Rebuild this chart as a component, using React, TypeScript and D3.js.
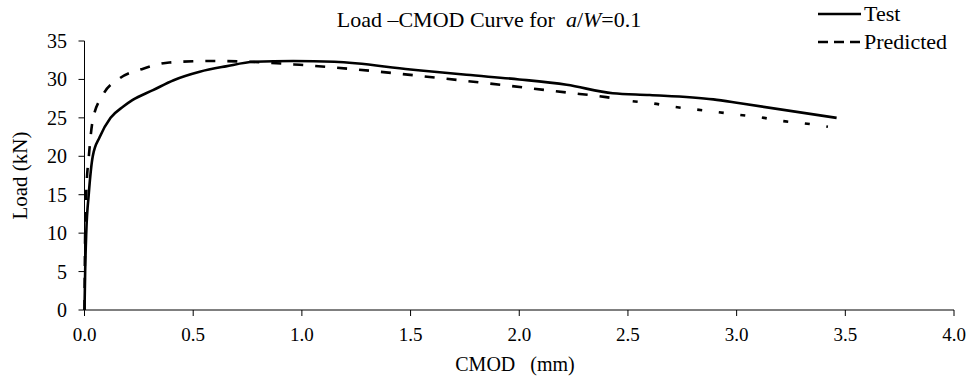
import React from "react";
import * as d3 from "d3";

const xTicks = [0, 0.5, 1.0, 1.5, 2.0, 2.5, 3.0, 3.5, 4.0];
const yTicks = [0, 5, 10, 15, 20, 25, 30, 35];

const testX = [0, 0.003, 0.008, 0.02, 0.038, 0.07, 0.12, 0.18, 0.22, 0.315, 0.41, 0.53, 0.65, 0.78, 0.96, 1.15, 1.5, 1.757, 2.0, 2.218, 2.43, 2.6, 2.893, 3.016, 3.46];
const testY = [0, 5, 10, 15.2, 20, 22.5, 25, 26.5, 27.3, 28.6, 29.9, 31, 31.7, 32.3, 32.4, 32.3, 31.3, 30.6, 30.0, 29.3, 28.2, 27.97, 27.4, 26.9, 25.0];

const predX = [0, 0.003, 0.008, 0.02, 0.038, 0.085, 0.16, 0.27, 0.39, 0.58, 0.75, 0.99, 1.757, 2.218, 2.4, 2.51, 2.609, 2.709, 2.809, 2.909, 3.008, 3.108, 3.208, 3.307, 3.42];
const predY = [0, 10, 15.2, 20, 24.7, 28, 30.1, 31.4, 32.2, 32.4, 32.3, 31.9, 29.8, 28.3, 27.7, 27.2, 26.9, 26.45, 26.1, 25.76, 25.4, 25.07, 24.6, 24.3, 23.85];

const dashSplit = 2.45;

const W = 971;
const H = 379;
const FONT = '"Liberation Serif", Tinos, "Times New Roman", serif';
const ts = { fontFamily: FONT, whiteSpace: "pre" as const };

export default function App() {
  const x = d3.scaleLinear().domain([0, 4]).range([84.5, 954]);
  const y = d3.scaleLinear().domain([0, 35]).range([310, 41]);
  const line = d3
    .line<[number, number]>()
    .x((d) => x(d[0]))
    .y((d) => y(d[1]))
    .curve(d3.curveMonotoneX);
  const testPts: [number, number][] = testX.map((v, i) => [v, testY[i]]);
  const predPts: [number, number][] = predX.map((v, i) => [v, predY[i]]);
  const predPath = line(predPts) || "";
  const sx = x(dashSplit);

  return (
    <svg
      width={W}
      height={H}
      style={{ position: "absolute", left: 0, top: 0, background: "#fff" }}
    >
      <defs>
        <clipPath id="clipA">
          <rect x={0} y={0} width={sx} height={H} />
        </clipPath>
        <clipPath id="clipB">
          <rect x={sx} y={0} width={W - sx} height={H} />
        </clipPath>
      </defs>
      <rect x={0} y={0} width={W} height={H} fill="#fff" />
      {/* title */}
      <text x={489} y={27} fontSize={22} textAnchor="middle" fill="#000" style={ts}>
        {"Load –CMOD Curve for  "}
        <tspan fontStyle="italic">a</tspan>
        <tspan>/</tspan>
        <tspan fontStyle="italic">W</tspan>
        {"=0.1"}
      </text>
      {/* axes */}
      <line x1={x(0)} x2={x(0)} y1={y(35)} y2={y(0)} stroke="#000" strokeWidth={1} />
      <line x1={x(0)} x2={x(4)} y1={y(0)} y2={y(0)} stroke="#000" strokeWidth={1} />
      {yTicks.map((t) => (
        <g key={"y" + t}>
          <line x1={x(0) - 6} x2={x(0)} y1={y(t)} y2={y(t)} stroke="#000" strokeWidth={1} />
          <text x={67} y={y(t) + 7} fontSize={20} textAnchor="end" fill="#000" style={ts}>
            {t}
          </text>
        </g>
      ))}
      {xTicks.map((t) => (
        <g key={"x" + t}>
          <line x1={x(t)} x2={x(t)} y1={y(0)} y2={y(0) + 6} stroke="#000" strokeWidth={1} />
          <text x={x(t)} y={341} fontSize={19} textAnchor="middle" fill="#000" style={ts}>
            {t.toFixed(1)}
          </text>
        </g>
      ))}
      <text x={515} y={371} fontSize={20} textAnchor="middle" fill="#000" style={ts}>
        {"CMOD   (mm)"}
      </text>
      <text
        transform={`translate(27,${(y(0) + y(35)) / 2}) rotate(-90)`}
        fontSize={21}
        textAnchor="middle"
        fill="#000"
        style={ts}
      >
        Load (kN)
      </text>
      {/* series */}
      <path d={predPath} fill="none" stroke="#000" strokeWidth={2.6} strokeDasharray="10 12" clipPath="url(#clipA)" />
      <path d={predPath} fill="none" stroke="#000" strokeWidth={2.6} strokeDasharray="5 16.7" clipPath="url(#clipB)" />
      <path d={line(testPts) || ""} fill="none" stroke="#000" strokeWidth={2.6} />
      {/* legend */}
      <line x1={818} x2={861} y1={14} y2={14} stroke="#000" strokeWidth={2.6} />
      <text x={864} y={21} fontSize={22} fill="#000" style={ts}>Test</text>
      <line x1={818} x2={861} y1={42} y2={42} stroke="#000" strokeWidth={2.6} strokeDasharray="10 6" />
      <text x={864} y={49} fontSize={22} fill="#000" style={ts}>Predicted</text>
    </svg>
  );
}
